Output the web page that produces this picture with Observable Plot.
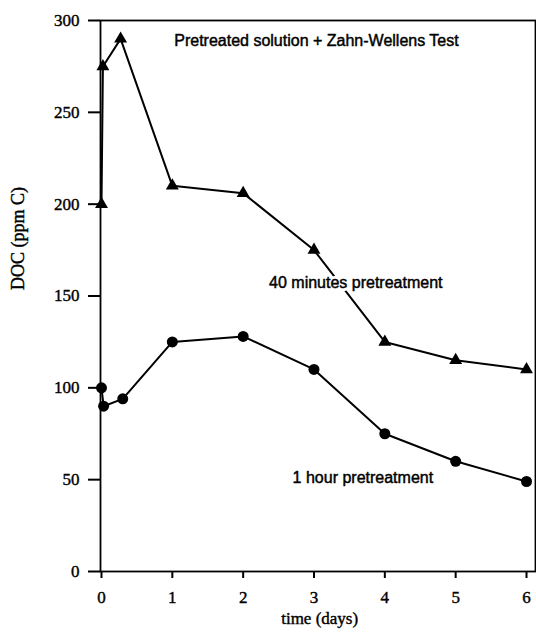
<!DOCTYPE html>
<html>
<head>
<meta charset="utf-8">
<script src="https://cdn.jsdelivr.net/npm/d3@7"></script>
<script src="https://cdn.jsdelivr.net/npm/@observablehq/plot@0.6"></script>
<style>
  body { margin: 0; background: #fff; }
  #chart svg { display: block; }
</style>
</head>
<body>
<div id="chart"></div>
<script>
// DOC over time after pretreatment, Zahn-Wellens test
const days40 = [0, 0.02, 0.27, 1, 2, 3, 4, 5, 6];
const doc40 = [200, 275, 290, 210, 206, 175, 125, 115, 110];
const days60 = [0, 0.03, 0.3, 1, 2, 3, 4, 5, 6];
const doc60 = [100, 90, 94, 125, 128, 110, 75, 60, 49];
const xTicks = [0, 1, 2, 3, 4, 5, 6];
const yTicks = [0, 50, 100, 150, 200, 250, 300];

const series40 = days40.map((d, i) => ({day: d, doc: doc40[i]}));
const series60 = days60.map((d, i) => ({day: d, doc: doc60[i]}));

const serif = "'Liberation Serif', 'Times New Roman', serif";
const sans = "'Liberation Sans', Arial, Helvetica, sans-serif";

// slightly heavier glyphs via a thin outline in the text colour
const heavySans = {fontFamily: sans, fontSize: 16, fill: "#000", stroke: "#000", strokeWidth: 0.45};
const heavySerif = {fontFamily: serif, fill: "#000", stroke: "#000", strokeWidth: 0.4};

const chart = Plot.plot({
  width: 536,
  height: 636,
  marginLeft: 100,
  marginRight: 1,
  marginTop: 20,
  marginBottom: 65,
  style: {background: "#fff", color: "#000"},
  x: {domain: [-0.014, 6.127]},
  y: {domain: [0, 300]},
  marks: [
    Plot.frame({stroke: "#000", strokeWidth: 1.8}),
    Plot.axisY({
      ticks: yTicks, tickSize: 12, tickPadding: 9, strokeWidth: 2,
      fontFamily: serif, fontSize: 17, label: null, tickFormat: d => String(d),
      textStroke: "#000", textStrokeWidth: 0.4
    }),
    Plot.axisX({
      ticks: xTicks, tickSize: 7, tickPadding: 12, strokeWidth: 2,
      fontFamily: serif, fontSize: 17, label: null, tickFormat: d => String(d),
      textStroke: "#000", textStrokeWidth: 0.4
    }),
    Plot.line(series60, {x: "day", y: "doc", stroke: "#000", strokeWidth: 2}),
    Plot.line(series40, {x: "day", y: "doc", stroke: "#000", strokeWidth: 2}),
    Plot.dot(series60, {x: "day", y: "doc", symbol: "circle", r: 5.5, fill: "#000"}),
    Plot.dot(series40, {x: "day", y: "doc", symbol: "triangle", r: 4.8, fill: "#000"}),
    Plot.text(["Pretreated solution + Zahn-Wellens Test"], {x: 3.035, y: 289, ...heavySans}),
    // white knock-out behind the label where the line passes
    Plot.text(["40 minutes pretreatment"], {
      x: 3.59, y: 157.3, fontFamily: sans, fontSize: 16, fill: "#fff",
      stroke: "#fff", strokeWidth: 6
    }),
    Plot.text(["40 minutes pretreatment"], {x: 3.59, y: 157.3, ...heavySans}),
    Plot.text(["1 hour pretreatment"], {x: 3.69, y: 51.2, ...heavySans}),
    Plot.text(["DOC (ppm C)"], {
      frameAnchor: "left", y: 153.2, dx: -82, rotate: -90, fontSize: 18, ...heavySerif
    }),
    Plot.text(["time (days)"], {
      frameAnchor: "bottom", x: 3.08, dy: 52, fontSize: 17, ...heavySerif
    })
  ]
});

document.getElementById("chart").appendChild(chart);
</script>
</body>
</html>
